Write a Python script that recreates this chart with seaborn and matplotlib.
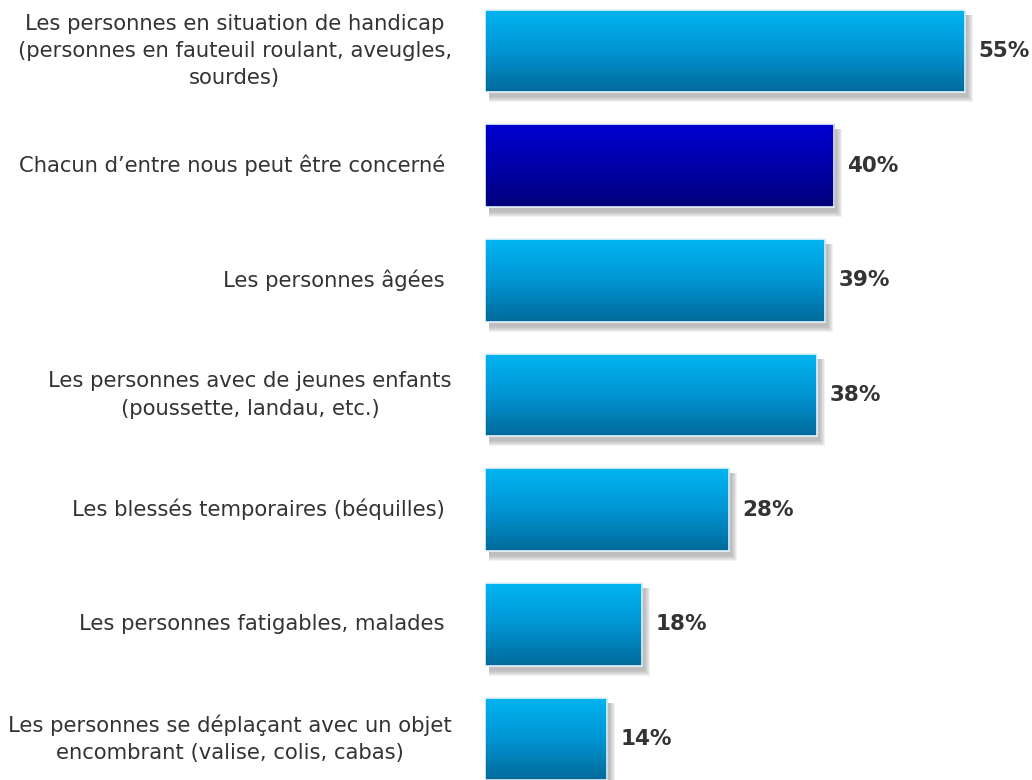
import matplotlib.pyplot as plt
import numpy as np
import seaborn as sns
import pandas as pd
from matplotlib.colors import LinearSegmentedColormap
from matplotlib.patches import Rectangle

# data
categories = [
    "Les personnes en situation de handicap\n(personnes en fauteuil roulant, aveugles,\nsourdes)",
    "Chacun d\u2019entre nous peut être concerné ",
    "Les personnes âgées ",
    "Les personnes avec de jeunes enfants\n(poussette, landau, etc.)",
    "Les blessés temporaires (béquilles) ",
    "Les personnes fatigables, malades ",
    "Les personnes se déplaçant avec un objet\nencombrant (valise, colis, cabas)",
]
values = [55, 40, 39, 38, 28, 18, 14]
highlight = [False, True, False, False, False, False, False]

df = pd.DataFrame({"cat": categories, "val": values})

# styling
light_grad = LinearSegmentedColormap.from_list("lb", ["#00b6f2", "#0095d4", "#006a99"])
dark_grad = LinearSegmentedColormap.from_list("db", ["#0000d2", "#0000aa", "#00007a"])
text_col = "#333333"

sns.set_style("white")
plt.rcParams["font.family"] = ["DejaVu Sans"]

fig = plt.figure(figsize=(10.32, 7.80), dpi=100)
ax = fig.add_axes([485 / 1032, 0, (1032 - 485) / 1032, 1])

sns.barplot(data=df, x="val", y="cat", orient="h", width=0.72,
            color="#00a0e0", ax=ax)

xmax = (1032 - 485) / 8.73
ymin, ymax = -0.445, 6.357
px_x = xmax / (1032 - 485)
px_y = (ymax - ymin) / 780

grad = np.linspace(0, 1, 256).reshape(-1, 1)
for patch, hl, v in zip(ax.patches, highlight, values):
    x0, y0 = patch.get_x(), patch.get_y()
    w, h = patch.get_width(), patch.get_height()
    # soft shadow
    for k in range(6, 0, -1):
        ax.add_patch(Rectangle((x0 + 4 * px_x, y0 + 5 * px_y), w + (k - 2) * px_x, h + (k - 1) * px_y,
                               facecolor="#808080", edgecolor="none", alpha=0.11, zorder=1))
    patch.set_facecolor("none")
    patch.set_edgecolor("#e8f4fb")
    patch.set_linewidth(1.2)
    patch.set_zorder(3)
    im = ax.imshow(grad, cmap=dark_grad if hl else light_grad, aspect="auto",
                   extent=(x0, x0 + w, y0 + h, y0), origin="upper", zorder=2)
    im.set_clip_path(patch)
    ax.text(x0 + w + 13 * px_x, y0 + h / 2, f"{v}%", ha="left", va="center",
            fontsize=15.5, fontweight="bold", color=text_col, zorder=4)

ax.set_xlim(0, xmax)
ax.set_ylim(ymax, ymin)
ax.set_xlabel("")
ax.set_ylabel("")
ax.set_xticks([])
ax.tick_params(axis="y", length=0, pad=24)
for lab in ax.get_yticklabels():
    lab.set_fontsize(15.2)
    lab.set_color(text_col)
    lab.set_multialignment("center")
    lab.set_linespacing(1.45)
    lab.set_verticalalignment("center")
sns.despine(ax=ax, left=True, bottom=True)

fig.savefig("out.png", dpi=100)
